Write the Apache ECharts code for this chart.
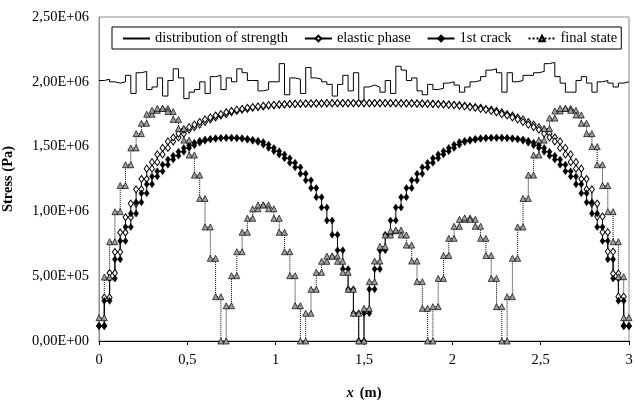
<!DOCTYPE html>
<html>
<head>
<meta charset="utf-8">
<script src="https://cdn.jsdelivr.net/npm/echarts@6/dist/echarts.min.js"></script>
<style>
  html, body { margin: 0; padding: 0; background: #fff; }
  #chart { width: 636px; height: 400px; }
</style>
</head>
<body>
<div id="chart"></div>
<script>
// 3 m beam cut in 100 equal elements, one stress value per element (MPa)
const beamLength = 3
const elementCount = 100

const strength = [
  2.01, 2.02, 2.00, 1.99, 2.00, 2.05, 1.91, 2.07, 2.08, 1.94,
  1.96, 2.03, 1.89, 2.01, 2.10, 2.03, 1.87, 1.92, 1.94, 2.00,
  1.91, 2.04, 2.05, 1.94, 2.03, 2.00, 2.10, 2.07, 2.01, 2.01,
  1.93, 1.94, 2.00, 2.00, 2.14, 1.90, 2.03, 2.02, 1.91, 2.11,
  2.03, 2.02, 2.00, 1.98, 1.89, 1.98, 2.05, 1.93, 2.07, 1.85,
  1.96, 1.975, 1.96, 1.92, 2.01, 1.91, 2.12, 2.09, 2.01, 2.03,
  1.93, 1.90, 1.98, 1.94, 1.95, 1.99, 2.00, 1.975, 1.92, 1.96,
  2.00, 2.01, 2.04, 2.09, 2.10, 2.07, 1.92, 2.07, 2.00, 2.01,
  2.05, 2.05, 2.07, 2.08, 2.14, 2.15, 2.04, 1.99, 1.92, 1.92,
  2.01, 2.04, 1.99, 1.92, 2.00, 2.01, 1.99, 1.96, 1.99, 2.00
]

const elasticPhase = [
  0.116, 0.335, 0.525, 0.687, 0.837, 0.955, 1.06, 1.17, 1.25, 1.33,
  1.38, 1.44, 1.49, 1.54, 1.57, 1.60, 1.63, 1.65, 1.67, 1.69,
  1.71, 1.725, 1.74, 1.75, 1.765, 1.775, 1.785, 1.79, 1.80, 1.805,
  1.81, 1.815, 1.82, 1.822, 1.825, 1.827, 1.829, 1.83, 1.831, 1.832,
  1.833, 1.834, 1.834, 1.835, 1.835, 1.835, 1.836, 1.836, 1.836, 1.836,
  1.836, 1.836, 1.836, 1.836, 1.835, 1.835, 1.835, 1.834, 1.834, 1.833,
  1.832, 1.831, 1.83, 1.829, 1.827, 1.825, 1.822, 1.82, 1.815, 1.81,
  1.805, 1.80, 1.79, 1.785, 1.775, 1.765, 1.75, 1.74, 1.725, 1.71,
  1.69, 1.67, 1.65, 1.63, 1.60, 1.57, 1.54, 1.49, 1.44, 1.38,
  1.33, 1.25, 1.17, 1.06, 0.96, 0.84, 0.69, 0.52, 0.342, 0.116
]

const firstCrack = [
  0.117, 0.31, 0.483, 0.63, 0.772, 0.88, 0.983, 1.07, 1.14, 1.21,
  1.27, 1.31, 1.36, 1.40, 1.43, 1.46, 1.49, 1.51, 1.53, 1.545,
  1.555, 1.56, 1.565, 1.567, 1.568, 1.567, 1.565, 1.56, 1.553, 1.545,
  1.535, 1.515, 1.49, 1.465, 1.44, 1.41, 1.375, 1.34, 1.29, 1.24,
  1.18, 1.11, 1.03, 0.93, 0.82, 0.70, 0.555, 0.399, 0.214, 0,
  0.214, 0.399, 0.555, 0.70, 0.82, 0.93, 1.03, 1.11, 1.18, 1.24,
  1.29, 1.34, 1.375, 1.41, 1.44, 1.465, 1.49, 1.515, 1.535, 1.545,
  1.553, 1.56, 1.565, 1.567, 1.568, 1.568, 1.567, 1.565, 1.56, 1.555,
  1.545, 1.53, 1.51, 1.49, 1.46, 1.43, 1.40, 1.36, 1.31, 1.27,
  1.21, 1.14, 1.07, 0.983, 0.88, 0.772, 0.63, 0.483, 0.31, 0.117
]

const finalState = [
  0.18, 0.493, 0.766, 0.998, 1.20, 1.36, 1.49, 1.60, 1.68, 1.75,
  1.78, 1.795, 1.795, 1.77, 1.71, 1.64, 1.55, 1.435, 1.28, 1.10,
  0.88, 0.638, 0.342, 0, 0.272, 0.504, 0.689, 0.839, 0.947, 1.02,
  1.05, 1.05, 1.02, 0.947, 0.839, 0.689, 0.504, 0.272, 0, 0.214,
  0.399, 0.53, 0.615, 0.655, 0.655, 0.615, 0.53, 0.399, 0.214, 0,
  0.252, 0.458, 0.617, 0.73, 0.818, 0.85, 0.856, 0.818, 0.74, 0.617,
  0.458, 0.252, 0, 0.265, 0.483, 0.66, 0.792, 0.885, 0.939, 0.95,
  0.939, 0.885, 0.792, 0.66, 0.483, 0.265, 0, 0.342, 0.638, 0.88,
  1.10, 1.28, 1.435, 1.55, 1.64, 1.72, 1.775, 1.795, 1.795, 1.78,
  1.744, 1.68, 1.60, 1.50, 1.36, 1.20, 0.998, 0.766, 0.496, 0.18
]

const seriesNames = ['distribution of strength', 'elastic phase', '1st crack', 'final state']

// each element gives two points (its two ends) at the same stress
const toSteps = (values) => {
  const h = beamLength / elementCount
  const pts = []
  values.forEach((v, i) => {
    pts.push([+(i * h).toFixed(4), v * 1e6])
    pts.push([+((i + 1) * h).toFixed(4), v * 1e6])
  })
  return pts
}

// 2500000 -> "2,50E+06"
const sciLabel = (v) => {
  if (v === 0) return '0,00E+00'
  const e = Math.floor(Math.log10(v) + 1e-9)
  const m = v / Math.pow(10, e)
  return m.toFixed(2).replace('.', ',') + 'E+' + String(e).padStart(2, '0')
}

const font = 'Liberation Serif'
const chart = echarts.init(document.getElementById('chart'))

chart.setOption({
  animation: false,
  backgroundColor: '#fff',
  textStyle: { fontFamily: font },
  grid: {
    left: 99, right: 7, top: 17, bottom: 59,
    outerBoundsMode: 'none',
    containLabel: false,
    show: true, borderColor: '#8c8c8c', borderWidth: 1
  },
  legend: {
    left: 112, top: 27,
    padding: [4, 4, 3, 10],
    itemGap: 16,
    itemWidth: 27,
    itemHeight: 7,
    borderColor: '#000',
    borderWidth: 1,
    backgroundColor: '#fff',
    textStyle: { fontFamily: font, fontSize: 14.5, color: '#000' },
    data: [
      // plain line in the key, marker hidden
      { name: seriesNames[0], itemStyle: { opacity: 0 } },
      seriesNames[1], seriesNames[2], seriesNames[3]
    ]
  },
  xAxis: {
    type: 'value',
    min: 0, max: beamLength, interval: 0.5,
    name: '{i|x}  {b|(m)}',
    nameLocation: 'middle',
    nameGap: 45,
    nameTextStyle: {
      rich: {
        i: { fontFamily: font, fontSize: 14.5, fontStyle: 'italic', fontWeight: 'bold', color: '#000' },
        b: { fontFamily: font, fontSize: 14.5, fontWeight: 'bold', color: '#000' }
      }
    },
    axisLine: { lineStyle: { color: '#000', width: 1 } },
    axisTick: { show: true, length: 4, lineStyle: { color: '#000' } },
    axisLabel: {
      margin: 12, fontFamily: font, fontSize: 14.5, color: '#000',
      formatter: (v) => String(v).replace('.', ',')
    },
    splitLine: { show: false }
  },
  yAxis: {
    type: 'value',
    min: 0, max: 2500000, interval: 500000,
    name: 'Stress (Pa)',
    nameLocation: 'middle',
    nameGap: 83,
    nameRotate: 90,
    nameTextStyle: { fontFamily: font, fontSize: 14.5, fontWeight: 'bold', color: '#000' },
    axisLine: { show: true, lineStyle: { color: '#8c8c8c', width: 1 } },
    axisTick: { show: false },
    axisLabel: { margin: 10, fontFamily: font, fontSize: 14.5, color: '#000', formatter: sciLabel },
    splitLine: { show: false }
  },
  series: [
    {
      name: seriesNames[0],
      type: 'line',
      data: toSteps(strength),
      symbol: 'none',
      lineStyle: { color: '#000', width: 1 },
      itemStyle: { color: '#000' },
      emphasis: { disabled: true }
    },
    {
      name: seriesNames[1],
      type: 'line',
      data: toSteps(elasticPhase),
      symbol: 'diamond',
      symbolSize: [5, 7],
      showAllSymbol: true,
      lineStyle: { color: '#000', width: 1 },
      itemStyle: { color: '#fff', borderColor: '#000', borderWidth: 1 },
      emphasis: { disabled: true }
    },
    {
      name: seriesNames[2],
      type: 'line',
      data: toSteps(firstCrack),
      symbol: 'diamond',
      symbolSize: [5, 7],
      showAllSymbol: true,
      lineStyle: { color: '#000', width: 1 },
      itemStyle: { color: '#000', borderColor: '#000', borderWidth: 0.5 },
      emphasis: { disabled: true }
    },
    {
      name: seriesNames[3],
      type: 'line',
      data: toSteps(finalState),
      symbol: 'triangle',
      symbolSize: 6,
      showAllSymbol: true,
      lineStyle: { color: '#000', width: 1, type: 'dotted' },
      itemStyle: { color: '#a0a0a0', borderColor: '#000', borderWidth: 0.7 },
      emphasis: { disabled: true }
    }
  ]
})
</script>
</body>
</html>
